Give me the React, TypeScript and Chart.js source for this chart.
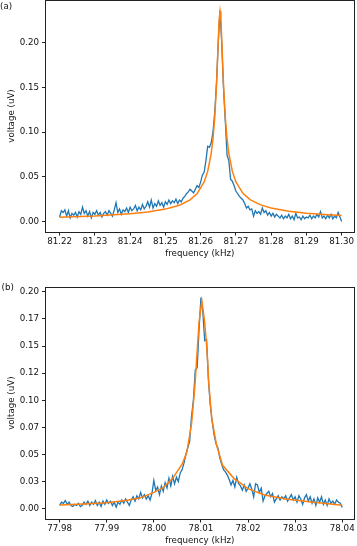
import React, { useEffect, useRef } from "react";
import { Chart, registerables } from "chart.js";

Chart.register(...registerables);

const FONT = "'DejaVu Sans', sans-serif";
const BLUE = "#1f77b4";
const ORANGE = "#ff7f0e";
const TEXT = "#111";
const LINE = "#222";

// ---------- Panel (a) ----------
const freqA = [
  81.2200, 81.2205, 81.2210, 81.2215, 81.2220, 81.2225, 81.2230, 81.2235, 81.2240, 81.2245,
  81.2250, 81.2255, 81.2260, 81.2265, 81.2270, 81.2275, 81.2280, 81.2285, 81.2290, 81.2295,
  81.2300, 81.2305, 81.2310, 81.2315, 81.2320, 81.2325, 81.2330, 81.2335, 81.2340, 81.2345,
  81.2350, 81.2355, 81.2360, 81.2365, 81.2370, 81.2375, 81.2380, 81.2385, 81.2390, 81.2395,
  81.2400, 81.2405, 81.2410, 81.2415, 81.2420, 81.2425, 81.2430, 81.2435, 81.2440, 81.2445,
  81.2450, 81.2455, 81.2460, 81.2465, 81.2470, 81.2475, 81.2480, 81.2485, 81.2490, 81.2495,
  81.2500, 81.2505, 81.2510, 81.2515, 81.2520, 81.2525, 81.2530, 81.2535, 81.2540, 81.2545,
  81.2550, 81.2555, 81.2560, 81.2565, 81.2570, 81.2575, 81.2580, 81.2585, 81.2590, 81.2595,
  81.2600, 81.2605, 81.2610, 81.2615, 81.2620, 81.2625, 81.2630, 81.2635, 81.2640, 81.2645,
  81.2650, 81.2655, 81.2660, 81.2665, 81.2670, 81.2675, 81.2680, 81.2685, 81.2690, 81.2695,
  81.2700, 81.2705, 81.2710, 81.2715, 81.2720, 81.2725, 81.2730, 81.2735, 81.2740, 81.2745,
  81.2750, 81.2755, 81.2760, 81.2765, 81.2770, 81.2775, 81.2780, 81.2785, 81.2790, 81.2795,
  81.2800, 81.2805, 81.2810, 81.2815, 81.2820, 81.2825, 81.2830, 81.2835, 81.2840, 81.2845,
  81.2850, 81.2855, 81.2860, 81.2865, 81.2870, 81.2875, 81.2880, 81.2885, 81.2890, 81.2895,
  81.2900, 81.2905, 81.2910, 81.2915, 81.2920, 81.2925, 81.2930, 81.2935, 81.2940, 81.2945,
  81.2950, 81.2955, 81.2960, 81.2965, 81.2970, 81.2975, 81.2980, 81.2985, 81.2990, 81.2995,
  81.3000,
];
const voltA = [
  0.005, 0.012, 0.010, 0.013, 0.006, 0.012, 0.004, 0.009, 0.007, 0.010,
  0.005, 0.011, 0.008, 0.016, 0.009, 0.012, 0.006, 0.011, 0.004, 0.010,
  0.008, 0.012, 0.007, 0.010, 0.005, 0.009, 0.011, 0.007, 0.012, 0.009,
  0.006, 0.013, 0.021, 0.010, 0.014, 0.008, 0.013, 0.011, 0.015, 0.010,
  0.016, 0.012, 0.014, 0.018, 0.012, 0.016, 0.013, 0.019, 0.014, 0.017,
  0.022, 0.016, 0.024, 0.015, 0.020, 0.017, 0.023, 0.018, 0.021, 0.016,
  0.022, 0.019, 0.024, 0.020, 0.023, 0.021, 0.025, 0.020, 0.024, 0.022,
  0.026, 0.028, 0.031, 0.033, 0.036, 0.034, 0.032, 0.036, 0.040, 0.038,
  0.044, 0.052, 0.055, 0.068, 0.084, 0.083, 0.088, 0.100, 0.122, 0.155,
  0.200, 0.236, 0.198, 0.148, 0.112, 0.074, 0.068, 0.047, 0.045, 0.040,
  0.034, 0.031, 0.028, 0.026, 0.024, 0.020, 0.015, 0.017, 0.013, 0.014,
  0.006, 0.012, 0.009, 0.011, 0.008, 0.015, 0.010, 0.012, 0.007, 0.010,
  0.006, 0.009, 0.005, 0.008, 0.006, 0.004, 0.007, 0.003, 0.006, 0.004,
  0.008, 0.003, 0.006, 0.002, 0.009, 0.004, 0.005, 0.002, 0.006, 0.003,
  0.005, 0.004, 0.007, 0.003, 0.006, 0.004, 0.008, 0.005, 0.011, 0.004,
  0.006, 0.003, 0.007, 0.004, 0.008, 0.003, 0.006, 0.004, 0.010, 0.005,
  0.000,
];
const fitFreqA = [
  81.2200, 81.2300, 81.2400, 81.2450, 81.2500, 81.2540, 81.2570, 81.2590, 81.2610, 81.2620,
  81.2630, 81.2635, 81.2640, 81.2645, 81.26475, 81.2650, 81.26525, 81.2655, 81.26575, 81.2660,
  81.26625, 81.2665, 81.2670, 81.2675, 81.2680, 81.2690, 81.2700, 81.2720, 81.2740, 81.2770,
  81.2800, 81.2850, 81.2900, 81.2950, 81.3000,
];
const fitVoltA = [
  0.0048, 0.0062, 0.0086, 0.0106, 0.0138, 0.0182, 0.0242, 0.0312, 0.0442, 0.0560,
  0.0762, 0.0922, 0.1160, 0.1522, 0.1762, 0.2026, 0.2254, 0.2350, 0.2254, 0.2026,
  0.1762, 0.1522, 0.1160, 0.0922, 0.0762, 0.0560, 0.0442, 0.0315, 0.0245, 0.0185,
  0.0150, 0.0115, 0.0092, 0.0077, 0.0066,
];
const xTicksA = [81.22, 81.23, 81.24, 81.25, 81.26, 81.27, 81.28, 81.29, 81.3];
const xTickLabelsA = ["81.22", "81.23", "81.24", "81.25", "81.26", "81.27", "81.28", "81.29", "81.30"];
const yTicksA = [0, 0.05, 0.1, 0.15, 0.2];
const yTickLabelsA = ["0.00", "0.05", "0.10", "0.15", "0.20"];

// ---------- Panel (b) ----------
const freqB = [
  77.9800, 77.9804, 77.9808, 77.9812, 77.9816, 77.9820, 77.9824, 77.9828, 77.9832, 77.9836,
  77.9840, 77.9844, 77.9848, 77.9852, 77.9856, 77.9860, 77.9864, 77.9868, 77.9872, 77.9876,
  77.9880, 77.9884, 77.9888, 77.9892, 77.9896, 77.9900, 77.9904, 77.9908, 77.9912, 77.9916,
  77.9920, 77.9924, 77.9928, 77.9932, 77.9936, 77.9940, 77.9944, 77.9948, 77.9952, 77.9956,
  77.9960, 77.9964, 77.9968, 77.9972, 77.9976, 77.9980, 77.9984, 77.9988, 77.9992, 77.9996,
  78.0000, 78.0004, 78.0008, 78.0012, 78.0016, 78.0020, 78.0024, 78.0028, 78.0032, 78.0036,
  78.0040, 78.0044, 78.0048, 78.0052, 78.0056, 78.0060, 78.0064, 78.0068, 78.0072, 78.0076,
  78.0080, 78.0084, 78.0088, 78.0092, 78.0096, 78.0100, 78.0104, 78.0108, 78.0112, 78.0116,
  78.0120, 78.0124, 78.0128, 78.0132, 78.0136, 78.0140, 78.0144, 78.0148, 78.0152, 78.0156,
  78.0160, 78.0164, 78.0168, 78.0172, 78.0176, 78.0180, 78.0184, 78.0188, 78.0192, 78.0196,
  78.0200, 78.0204, 78.0208, 78.0212, 78.0216, 78.0220, 78.0224, 78.0228, 78.0232, 78.0236,
  78.0240, 78.0244, 78.0248, 78.0252, 78.0256, 78.0260, 78.0264, 78.0268, 78.0272, 78.0276,
  78.0280, 78.0284, 78.0288, 78.0292, 78.0296, 78.0300, 78.0304, 78.0308, 78.0312, 78.0316,
  78.0320, 78.0324, 78.0328, 78.0332, 78.0336, 78.0340, 78.0344, 78.0348, 78.0352, 78.0356,
  78.0360, 78.0364, 78.0368, 78.0372, 78.0376, 78.0380, 78.0384, 78.0388, 78.0392, 78.0396,
  78.0400,
];
const voltB = [
  0.003, 0.006, 0.005, 0.0075, 0.004, 0.006, 0.003, 0.002, 0.004, 0.003,
  0.005, 0.002, 0.003, 0.006, 0.004, 0.007, 0.003, 0.006, 0.004, 0.0075,
  0.003, 0.006, 0.002, 0.007, 0.004, 0.008, 0.005, 0.007, 0.003, 0.006,
  0.0015, 0.006, 0.004, 0.008, 0.005, 0.009, 0.006, 0.003, 0.008, 0.011,
  0.007, 0.012, 0.009, 0.015, 0.010, 0.013, 0.009, 0.012, 0.008, 0.014,
  0.026, 0.017, 0.020, 0.013, 0.021, 0.016, 0.024, 0.019, 0.028, 0.021,
  0.030, 0.023, 0.029, 0.025, 0.033, 0.036, 0.042, 0.050, 0.056, 0.062,
  0.085, 0.100, 0.128, 0.130, 0.165, 0.1947, 0.182, 0.155, 0.156, 0.118,
  0.095, 0.080, 0.068, 0.060, 0.056, 0.047, 0.041, 0.036, 0.034, 0.031,
  0.027, 0.022, 0.026, 0.020, 0.029, 0.023, 0.021, 0.017, 0.022, 0.016,
  0.019, 0.023, 0.018, 0.011, 0.023, 0.022, 0.015, 0.019, 0.007, 0.012,
  0.014, 0.016, 0.011, 0.014, 0.006, 0.009, 0.012, 0.008, 0.011, 0.009,
  0.012, 0.007, 0.010, 0.013, 0.008, 0.011, 0.006, 0.012, 0.009, 0.004,
  0.010, 0.013, 0.007, 0.011, 0.005, 0.009, 0.003, 0.010, 0.006, 0.011,
  0.004, 0.008, 0.003, 0.009, 0.005, 0.007, 0.004, 0.008, 0.006, 0.005,
  0.001,
];
const fitFreqB = [
  77.9800, 77.9850, 77.9900, 77.9940, 77.9970, 78.0000, 78.0020, 78.0040, 78.0060, 78.0070,
  78.0080, 78.0087, 78.0092, 78.0096, 78.0102, 78.0108, 78.0113, 78.0117, 78.0123, 78.0133,
  78.0146, 78.0170, 78.0200, 78.0235, 78.0280, 78.0330, 78.0400,
];
const fitVoltB = [
  0.0034, 0.0044, 0.0056, 0.0075, 0.0098, 0.0150, 0.0195, 0.0280, 0.0410, 0.0520,
  0.0780, 0.1120, 0.1450, 0.1720, 0.1916, 0.1720, 0.1450, 0.1140, 0.0830, 0.0590,
  0.0400, 0.0280, 0.0185, 0.0126, 0.0089, 0.0065, 0.0032,
];
const xTicksB = [77.98, 77.99, 78.0, 78.01, 78.02, 78.03, 78.04];
const xTickLabelsB = ["77.98", "77.99", "78.00", "78.01", "78.02", "78.03", "78.04"];
const yTicksB = [0, 0.025, 0.05, 0.075, 0.1, 0.125, 0.15, 0.175, 0.2];
const yTickLabelsB = ["0.00", "0.03", "0.05", "0.07", "0.10", "0.12", "0.15", "0.17", "0.20"];

const X_TITLE = "frequency (kHz)";
const Y_TITLE = "voltage (uV)";

type Panel = {
  tag: string;
  tagX: number;
  tagY: number;
  freq: number[];
  volt: number[];
  fitFreq: number[];
  fitVolt: number[];
  xTicks: number[];
  xLabels: string[];
  yTicks: number[];
  yLabels: string[];
  xMin: number;
  xMax: number;
  yMin: number;
  yMax: number;
  padTop: number;
};

const panelA: Panel = {
  tag: "(a)", tagX: 0, tagY: 6.5,
  freq: freqA, volt: voltA, fitFreq: fitFreqA, fitVolt: fitVoltA,
  xTicks: xTicksA, xLabels: xTickLabelsA, yTicks: yTicksA, yLabels: yTickLabelsA,
  xMin: 81.216, xMax: 81.3035, yMin: -0.0118, yMax: 0.2477, padTop: 0,
};
const panelB: Panel = {
  tag: "(b)", tagX: 1.5, tagY: 17.7,
  freq: freqB, volt: voltB, fitFreq: fitFreqB, fitVolt: fitVoltB,
  xTicks: xTicksB, xLabels: xTickLabelsB, yTicks: yTicksB, yLabels: yTickLabelsB,
  xMin: 77.977, xMax: 78.0425, yMin: -0.0095, yMax: 0.2042, padTop: 17.3,
};

const tickFont = { family: FONT, size: 8.7, lineHeight: 1 };

function zeroPadding(s: any) {
  s.paddingTop = 0;
  s.paddingBottom = 0;
  s.paddingLeft = 0;
  s.paddingRight = 0;
}

function makeChart(canvas: HTMLCanvasElement, p: Panel) {
  const framePlugin = {
    id: "frameAndTag",
    afterDraw(chart: any) {
      const { ctx, chartArea: a } = chart;
      ctx.save();
      ctx.strokeStyle = LINE;
      ctx.lineWidth = 1;
      const l = Math.floor(a.left) + 0.5;
      const t = Math.floor(a.top) + 0.5;
      const r = Math.floor(a.right) + 0.5;
      const b = Math.floor(a.bottom) + 0.5;
      ctx.strokeRect(l, t, r - l, b - t);
      ctx.fillStyle = TEXT;
      ctx.font = `8.7px ${FONT}`;
      ctx.textBaseline = "middle";
      ctx.textAlign = "left";
      ctx.fillText(p.tag, p.tagX, p.tagY);
      ctx.restore();
    },
  };

  return new Chart(canvas, {
    type: "line",
    data: {
      datasets: [
        {
          data: p.freq.map((x, i) => ({ x, y: p.volt[i] })),
          borderColor: BLUE,
          borderWidth: 1.3,
          pointRadius: 0,
          tension: 0,
          fill: false,
          order: 2,
        },
        {
          data: p.fitFreq.map((x, i) => ({ x, y: p.fitVolt[i] })),
          borderColor: ORANGE,
          borderWidth: 1.5,
          pointRadius: 0,
          tension: 0,
          fill: false,
          order: 1,
        },
      ],
    },
    options: {
      responsive: false,
      animation: false,
      events: [],
      layout: { autoPadding: false, padding: { left: 0, right: 3, top: p.padTop, bottom: 0 } },
      plugins: { legend: { display: false }, tooltip: { enabled: false } },
      scales: {
        x: {
          type: "linear",
          min: p.xMin,
          max: p.xMax,
          afterFit: (s: any) => { s.height = 27; zeroPadding(s); },
          afterBuildTicks: (s: any) => { s.ticks = p.xTicks.map((v) => ({ value: v })); },
          ticks: {
            callback: (_v: any, i: number) => p.xLabels[i],
            font: tickFont,
            color: TEXT,
            padding: 2.3,
            autoSkip: false,
            maxRotation: 0,
            minRotation: 0,
          },
          grid: { drawOnChartArea: false, drawTicks: true, tickLength: 3.5, color: LINE, lineWidth: 1 },
          border: { display: false },
          title: {
            display: true,
            text: X_TITLE,
            color: TEXT,
            font: { family: FONT, size: 8.7, lineHeight: 1 },
            padding: { top: 0, bottom: 0.65 },
          },
        },
        y: {
          type: "linear",
          min: p.yMin,
          max: p.yMax,
          afterFit: (s: any) => { s.width = 45.5; zeroPadding(s); },
          afterBuildTicks: (s: any) => { s.ticks = p.yTicks.map((v) => ({ value: v })); },
          ticks: {
            callback: (_v: any, i: number) => p.yLabels[i],
            font: tickFont,
            color: TEXT,
            padding: 3,
            autoSkip: false,
          },
          grid: { drawOnChartArea: false, drawTicks: true, tickLength: 3.5, color: LINE, lineWidth: 1 },
          border: { display: false },
          title: {
            display: true,
            text: Y_TITLE,
            color: TEXT,
            font: { family: FONT, size: 8.7, lineHeight: 1 },
            padding: { top: 7.65, bottom: 0 },
          },
        },
      },
    } as any,
    plugins: [framePlugin],
  });
}

export default function App() {
  const refA = useRef<HTMLCanvasElement | null>(null);
  const refB = useRef<HTMLCanvasElement | null>(null);

  useEffect(() => {
    const charts: Chart[] = [];
    if (refA.current) charts.push(makeChart(refA.current, panelA));
    if (refB.current) charts.push(makeChart(refB.current, panelB));
    return () => charts.forEach((c) => c.destroy());
  }, []);

  return (
    <div style={{ position: "absolute", left: 0, top: 0, width: 357, height: 546, background: "#fff", overflow: "hidden" }}>
      <canvas
        ref={refA}
        width={357}
        height={259}
        style={{ position: "absolute", left: 0, top: 0, width: 357, height: 259, display: "block" }}
      />
      <canvas
        ref={refB}
        width={357}
        height={276}
        style={{ position: "absolute", left: 0, top: 270, width: 357, height: 276, display: "block" }}
      />
    </div>
  );
}
